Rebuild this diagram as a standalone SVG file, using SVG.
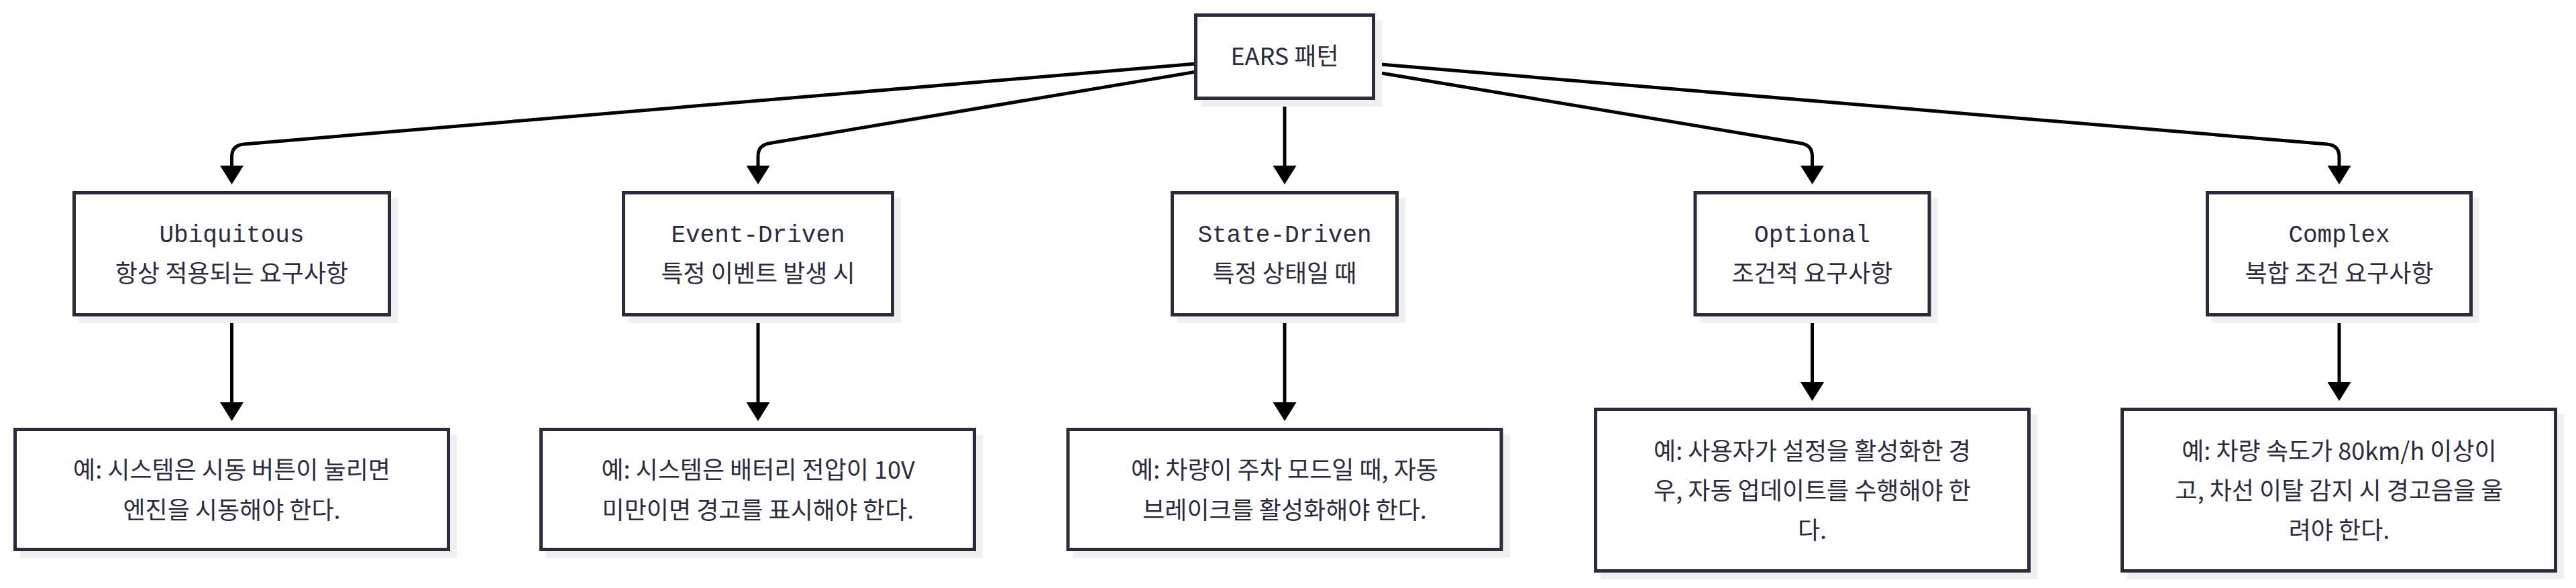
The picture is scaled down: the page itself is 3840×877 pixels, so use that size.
<svg xmlns="http://www.w3.org/2000/svg" width="3840" height="877" viewBox="0 0 3840 877">
<style>
.bg{fill:#ffffff}
.sh{fill:#efefef}
.box{fill:#ffffff;stroke:#2b2b40;stroke-width:5}
.t{font-family:"Noto Sans CJK KR","Noto Sans",sans-serif;font-size:36px;fill:#2b2b40;text-anchor:middle}
.m{font-family:"Liberation Mono","Noto Sans CJK KR",monospace}
.c{fill:none;stroke:#000000;stroke-width:5}
</style>
<defs>
<marker id="ah" viewBox="0 0 28 35" refX="0" refY="17.5" markerWidth="28" markerHeight="35" markerUnits="userSpaceOnUse" orient="auto">
<path d="M0,0 L28,17.5 L0,35 z" fill="#000000"/>
</marker>
</defs>
<rect class="bg" x="0" y="0" width="3840" height="877"/>
<g id="connectors">
<path class="c" marker-end="url(#ah)" d="M1783,95 L364,215 Q345.5,216.5 345.5,234 L345.5,247"/>
<path class="c" marker-end="url(#ah)" d="M1783,107 L1148,213.5 Q1130,216 1130,233 L1130,247"/>
<path class="c" marker-end="url(#ah)" d="M1915,149 L1915,247"/>
<path class="c" marker-end="url(#ah)" d="M2047,107 L2683.5,213.5 Q2701.5,216 2701.5,233 L2701.5,247"/>
<path class="c" marker-end="url(#ah)" d="M2047,95 L3468.5,215 Q3487,216.5 3487,234 L3487,247"/>
<path class="c" marker-end="url(#ah)" d="M345.5,472 L345.5,600"/>
<path class="c" marker-end="url(#ah)" d="M1130,472 L1130,600"/>
<path class="c" marker-end="url(#ah)" d="M1915,472 L1915,600"/>
<path class="c" marker-end="url(#ah)" d="M2701.5,472 L2701.5,570"/>
<path class="c" marker-end="url(#ah)" d="M3487,472 L3487,570"/>
</g>
<g id="root">
<rect class="sh" x="1790" y="30" width="270" height="129"/>
<rect class="box" x="1782.5" y="22.5" width="265" height="124"/>
<text class="t" x="1915" y="97">EARS 패턴</text>
</g>
<g id="ubiquitous">
<rect class="sh" x="118" y="295" width="475" height="187"/>
<rect class="box" x="110.5" y="287.5" width="470" height="182"/>
<text class="t m" x="345.5" y="361">Ubiquitous</text>
<text class="t" x="345.5" y="421">항상 적용되는 요구사항</text>
</g>
<g id="event">
<rect class="sh" x="937" y="295" width="406" height="187"/>
<rect class="box" x="929.5" y="287.5" width="401" height="182"/>
<text class="t m" x="1130" y="361">Event-Driven</text>
<text class="t" x="1130" y="421">특정 이벤트 발생 시</text>
</g>
<g id="state">
<rect class="sh" x="1755" y="295" width="340" height="187"/>
<rect class="box" x="1747.5" y="287.5" width="335" height="182"/>
<text class="t m" x="1915" y="361">State-Driven</text>
<text class="t" x="1915" y="421">특정 상태일 때</text>
</g>
<g id="optional">
<rect class="sh" x="2534.5" y="295" width="354" height="187"/>
<rect class="box" x="2527" y="287.5" width="349" height="182"/>
<text class="t m" x="2701.5" y="361">Optional</text>
<text class="t" x="2701.5" y="421">조건적 요구사항</text>
</g>
<g id="complex">
<rect class="sh" x="3298" y="295" width="398" height="187"/>
<rect class="box" x="3290.5" y="287.5" width="393" height="182"/>
<text class="t m" x="3487" y="361">Complex</text>
<text class="t" x="3487" y="421">복합 조건 요구사항</text>
</g>
<g id="ex-ubiquitous">
<rect class="sh" x="30" y="648" width="651" height="184"/>
<rect class="box" x="22.5" y="640.5" width="646" height="179"/>
<text class="t" x="345.5" y="714">예: 시스템은 시동 버튼이 눌리면</text>
<text class="t" x="345.5" y="774">엔진을 시동해야 한다.</text>
</g>
<g id="ex-event">
<rect class="sh" x="814" y="648" width="651" height="184"/>
<rect class="box" x="806.5" y="640.5" width="646" height="179"/>
<text class="t" x="1130" y="714">예: 시스템은 배터리 전압이 10V</text>
<text class="t" x="1130" y="774">미만이면 경고를 표시해야 한다.</text>
</g>
<g id="ex-state">
<rect class="sh" x="1599.5" y="648" width="651" height="184"/>
<rect class="box" x="1592" y="640.5" width="646" height="179"/>
<text class="t" x="1915" y="714">예: 차량이 주차 모드일 때, 자동</text>
<text class="t" x="1915" y="774">브레이크를 활성화해야 한다.</text>
</g>
<g id="ex-optional">
<rect class="sh" x="2386" y="618" width="651" height="246"/>
<rect class="box" x="2378.5" y="610.5" width="646" height="241"/>
<text class="t" x="2701.5" y="686">예: 사용자가 설정을 활성화한 경</text>
<text class="t" x="2701.5" y="745">우, 자동 업데이트를 수행해야 한</text>
<text class="t" x="2701.5" y="804">다.</text>
</g>
<g id="ex-complex">
<rect class="sh" x="3171" y="618" width="651" height="246"/>
<rect class="box" x="3163.5" y="610.5" width="646" height="241"/>
<text class="t" x="3487" y="686">예: 차량 속도가 80km/h 이상이</text>
<text class="t" x="3487" y="745">고, 차선 이탈 감지 시 경고음을 울</text>
<text class="t" x="3487" y="804">려야 한다.</text>
</g>
</svg>
